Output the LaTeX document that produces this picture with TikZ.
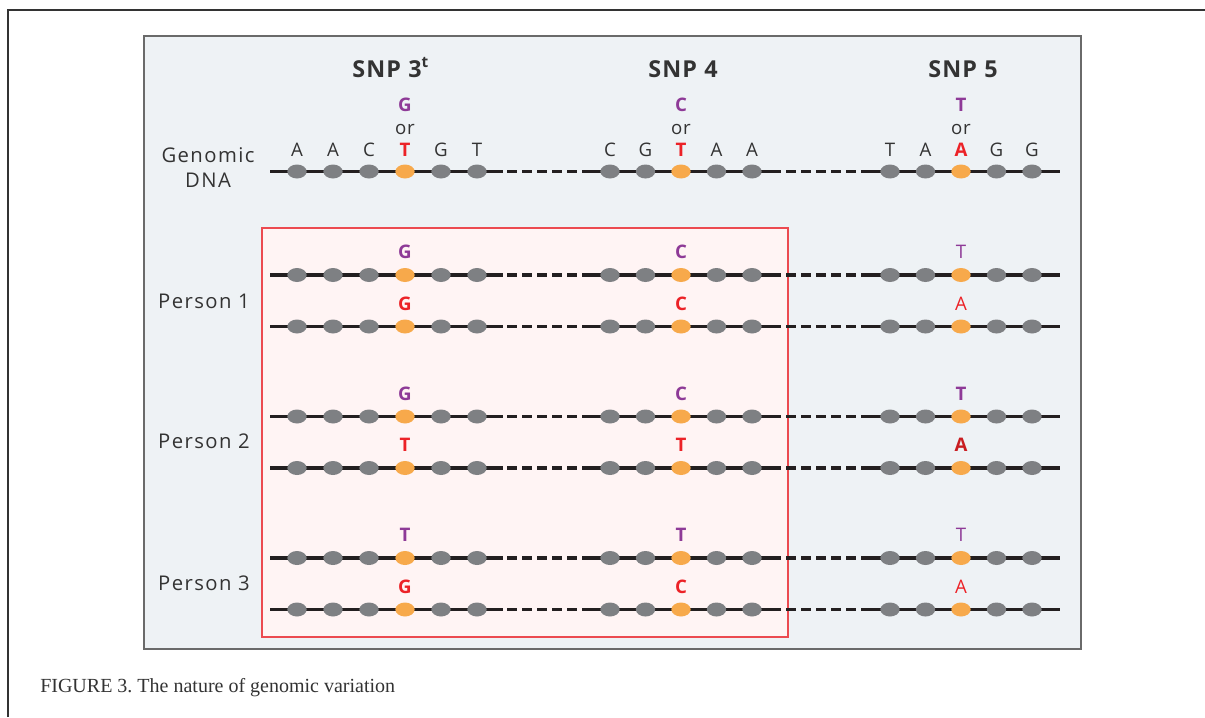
\documentclass[tikz,border=0pt]{standalone}
\usepackage{fontspec}
\usetikzlibrary{shapes.geometric}
\setmainfont{Liberation Serif}
\newfontfamily\lblfont[LetterSpace=7]{Open Sans}
\newfontfamily\basefont[LetterSpace=4]{Open Sans}
\newfontfamily\titlefont[LetterSpace=5]{Open Sans}
\definecolor{panelbg}{HTML}{EEF2F5}
\definecolor{paneledge}{HTML}{6A6A6A}
\definecolor{pinkbg}{HTML}{FFF4F4}
\definecolor{pinkedge}{HTML}{EC4A50}
\definecolor{snpP}{HTML}{8E3A97}
\definecolor{snpR}{HTML}{EC2227}
\definecolor{dotgray}{HTML}{7E8083}
\definecolor{dotorange}{HTML}{F7A94B}
\definecolor{strandcol}{HTML}{231F20}
\definecolor{textcol}{HTML}{333333}
\tikzset{
  strandline/.style={draw=strandcol,line width=2.7pt},
  dashline/.style={dash pattern=on 7.5pt off 3.75pt},
  gdot/.style={ellipse,fill=dotgray,inner sep=0pt,minimum width=14.5pt,minimum height=10.5pt},
  odot/.style={ellipse,fill=dotorange,inner sep=0pt,minimum width=14.5pt,minimum height=10.5pt},
  lbl/.style={font=\lblfont\fontsize{15.2pt}{17pt}\selectfont,text=textcol,inner sep=0pt,anchor=base},
  nb/.style={font=\basefont\fontsize{14pt}{16pt}\selectfont,text=textcol,inner sep=0pt,anchor=base},
  pb/.style={font=\basefont\bfseries\fontsize{14pt}{16pt}\selectfont,text=snpP,inner sep=0pt,anchor=base},
  rb/.style={font=\basefont\bfseries\fontsize{14pt}{16pt}\selectfont,text=snpR,inner sep=0pt,anchor=base},
  pn/.style={font=\basefont\fontsize{14pt}{16pt}\selectfont,text=snpP,inner sep=0pt,anchor=base},
  rn/.style={font=\basefont\fontsize{14pt}{16pt}\selectfont,text=snpR,inner sep=0pt,anchor=base},
  title/.style={font=\titlefont\bfseries\fontsize{17.5pt}{19pt}\selectfont,text=textcol,inner sep=0pt,anchor=base},
}
\newcommand\dnarow[2]{%
  \coordinate (#1-a) at (270,#2);
  \coordinate (#1-b) at (503,#2);
  \coordinate (#1-c) at (507,#2);
  \coordinate (#1-d) at (577,#2);
  \coordinate (#1-e) at (582,#2);
  \coordinate (#1-f) at (781,#2);
  \coordinate (#1-g) at (786,#2);
  \coordinate (#1-h) at (856,#2);
  \coordinate (#1-i) at (861,#2);
  \coordinate (#1-j) at (1060,#2);
  \draw[strandline] (#1-a) -- (#1-b);
  \draw[strandline,dashline] (#1-c) -- (#1-d);
  \draw[strandline] (#1-e) -- (#1-f);
  \draw[strandline,dashline] (#1-g) -- (#1-h);
  \draw[strandline] (#1-i) -- (#1-j);
  \foreach \k/\xx/\st in {1/297/gdot,2/333/gdot,3/369/gdot,4/405/odot,5/441/gdot,6/477/gdot,
     7/610/gdot,8/645.5/gdot,9/681/odot,10/716.5/gdot,11/752/gdot,
     12/890/gdot,13/925.5/gdot,14/961/odot,15/996.5/gdot,16/1032/gdot}{
    \node[\st] (#1-\k) at (\xx,#2) {};
  }%
}
\begin{document}
\begin{tikzpicture}[x=0.75pt,y=-0.75pt]
\useasboundingbox (0,0) rectangle (1205,717);
\fill[white] (0,0) rectangle (1205,717);
% outer frame
\coordinate (fr-a) at (8,717);
\coordinate (fr-b) at (8,10);
\coordinate (fr-c) at (1205,10);
\draw[draw=textcol,line width=1.1pt] (fr-a) -- (fr-b) -- (fr-c);
% panel
\draw[fill=panelbg,draw=paneledge,line width=0.9pt] (144,36) rectangle (1081,649);
\draw[fill=pinkbg,draw=pinkedge,line width=0.9pt] (262,228) rectangle (788,637);
% titles
\node[title,anchor=base west] (t3) at (352,78) {SNP 3\raisebox{0.45em}{\fontsize{11.5pt}{12pt}\selectfont t}};
\node[title] (t4) at (683,78) {SNP 4};
\node[title] (t5) at (963,78) {SNP 5};
% genomic variant alternatives
\node[pb] (g-v3) at (405,111) {G};
\node[pb] (g-v4) at (681,111) {C};
\node[pb] (g-v5) at (961,111) {T};
\node[nb] (g-or3) at (405,134) {or};
\node[nb] (g-or4) at (681,134) {or};
\node[nb] (g-or5) at (961,134) {or};
% genomic DNA row
\node[lbl] (lab-g1) at (208,162) {Genomic};
\node[lbl] (lab-g2) at (208,187) {DNA};
\dnarow{gd}{171.5}
\foreach \xx/\ll/\nm in {297/A/1,333/A/2,369/C/3,441/G/5,477/T/6,610/C/7,645.5/G/8,716.5/A/10,752/A/11,890/T/12,925.5/A/13,996.5/G/15,1032/G/16}{
  \node[nb] (gl-\nm) at (\xx,156) {\ll};
}
\node[rb] (gl-4) at (405,156) {T};
\node[rb] (gl-9) at (681,156) {T};
\node[rb] (gl-14) at (961,156) {A};
% Person 1
\node[lbl] (lab-p1) at (204,308) {Person 1};
\dnarow{p1a}{275}
\dnarow{p1b}{326.5}
\node[pb] (p1a-l3) at (405,258.5) {G};
\node[pb] (p1a-l4) at (681,258.5) {C};
\node[pn] (p1a-l5) at (961,258.5) {T};
\node[rb] (p1b-l3) at (405,310) {G};
\node[rb] (p1b-l4) at (681,310) {C};
\node[rn] (p1b-l5) at (961,310) {A};
% Person 2
\node[lbl] (lab-p2) at (204,448) {Person 2};
\dnarow{p2a}{416.5}
\dnarow{p2b}{468}
\node[pb] (p2a-l3) at (405,400) {G};
\node[pb] (p2a-l4) at (681,400) {C};
\node[pb] (p2a-l5) at (961,400) {T};
\node[rb] (p2b-l3) at (405,451.5) {T};
\node[rb] (p2b-l4) at (681,451.5) {T};
\node[rb,text=snpR!85!black] (p2b-l5) at (961,451.5) {A};
% Person 3
\node[lbl] (lab-p3) at (204,590) {Person 3};
\dnarow{p3a}{558}
\dnarow{p3b}{609.5}
\node[pb] (p3a-l3) at (405,541.5) {T};
\node[pb] (p3a-l4) at (681,541.5) {T};
\node[pn] (p3a-l5) at (961,541.5) {T};
\node[rb] (p3b-l3) at (405,593) {G};
\node[rb] (p3b-l4) at (681,593) {C};
\node[rn] (p3b-l5) at (961,593) {A};
% caption
\node[font=\frenchspacing\fontsize{15pt}{17pt}\selectfont,text=textcol,inner sep=0pt,anchor=base west] (cap) at (40,692) {FIGURE 3. The nature of genomic variation};
\end{tikzpicture}
\end{document}
